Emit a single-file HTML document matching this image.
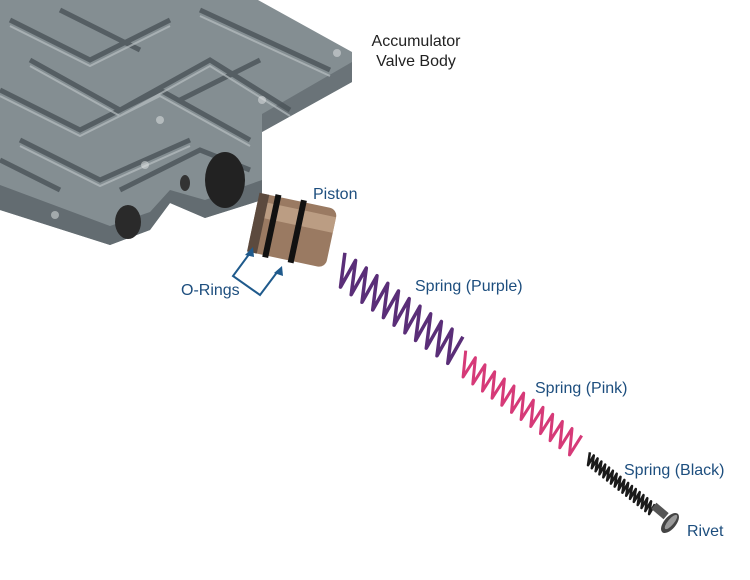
<!DOCTYPE html>
<html><head><meta charset="utf-8"><style>
html,body{margin:0;padding:0;background:#fff}
svg{display:block}
text{font-family:"Liberation Sans",sans-serif;font-size:16px}
</style></head><body>
<svg id="s" width="750" height="580" viewBox="0 0 750 580">
<!-- valve body -->
<polygon points="0,0 258,0 352,52 352,82 262,132 262,200 205,218 170,203 150,230 110,245 0,210" fill="#848e92"/>
<polygon points="0,185 110,226 150,212 170,190 205,200 262,180 262,200 205,218 170,203 150,230 110,245 0,210" fill="#636c71"/>
<polygon points="262,132 352,82 352,62 262,114" fill="#6a7378"/>
<g stroke="#4a5257" stroke-width="5" fill="none" opacity="0.8">
<path d="M10,20 L90,60 L170,20 M30,60 L120,110 L210,60 L290,110 M0,90 L80,130 L160,90 L250,140 M20,140 L100,180 L190,140 M60,10 L140,50 M200,10 L330,70 M180,100 L260,60 M0,160 L60,190 M120,190 L200,150 L250,170"/>
</g>
<g stroke="#b8bfc2" stroke-width="2" fill="none" opacity="0.7">
<path d="M10,26 L90,66 L170,26 M30,66 L120,116 L210,66 L290,116 M0,96 L80,136 L160,96 L250,146 M20,146 L100,186 L190,146 M200,16 L330,76"/>
</g>
<g fill="#e4e7e8" opacity="0.5"><circle cx="337" cy="53" r="4"/><circle cx="262" cy="100" r="4"/><circle cx="160" cy="120" r="4"/><circle cx="55" cy="215" r="4"/><circle cx="145" cy="165" r="4"/></g>
<ellipse cx="225" cy="180" rx="20" ry="28" fill="#222"/>
<ellipse cx="128" cy="222" rx="13" ry="17" fill="#2a2a2a"/>
<ellipse cx="185" cy="183" rx="5" ry="8" fill="#333"/>
<!-- piston -->
<g transform="rotate(12 290 232)">
<rect x="252" y="200" width="80" height="60" rx="8" fill="#9a7a62"/>
<rect x="252" y="208" width="80" height="16" fill="#c9ac92" opacity="0.7"/>
<rect x="268" y="198" width="6" height="64" fill="#111"/>
<rect x="294" y="198" width="6" height="64" fill="#111"/>
<rect x="252" y="200" width="10" height="60" fill="#5c4a3e"/>
</g>
<g id="springs"></g>
<!-- rivet -->
<rect x="652" y="507" width="16" height="8" fill="#555" transform="rotate(40 660 511)"/>
<ellipse cx="670" cy="523" rx="6" ry="12" fill="#444" transform="rotate(40 670 523)"/>
<ellipse cx="671" cy="522" rx="3" ry="9" fill="#999" transform="rotate(40 671 522)"/>
<!-- O-ring arrows -->
<g stroke="#1f5a8c" stroke-width="2" fill="none">
<polyline points="250,253 233,276 260,295 278,271"/>
</g>
<polygon points="253,247 245,255 254,257" fill="#1f5a8c"/>
<polygon points="282,266 274,273 283,276" fill="#1f5a8c"/>
<text x="416" y="46" text-anchor="middle" fill="#222">Accumulator</text>
<text x="416" y="66" text-anchor="middle" fill="#222">Valve Body</text>
<g fill="#1d4e7e">
<text x="313" y="199">Piston</text>
<text x="181" y="295">O-Rings</text>
<text x="415" y="291">Spring (Purple)</text>
<text x="535" y="393">Spring (Pink)</text>
<text x="624" y="475">Spring (Black)</text>
<text x="687" y="536">Rivet</text>
</g>
</svg>
<script>
function coil(ax,ay,bx,by,n,r,col,w){
 var dx=bx-ax,dy=by-ay,L=Math.hypot(dx,dy),ux=dx/L,uy=dy/L,px=-uy*0.55,py=1,d="";
 var pl=Math.hypot(px,py);px/=pl;py/=pl;
 for(var i=0;i<=2*n;i++){var t=i/(2*n),s=(i%2?1:-1)*r;
  var x=ax+dx*t+px*s,y=ay+dy*t+py*s;d+=(i?"L":"M")+x.toFixed(1)+","+y.toFixed(1);}
 var p=document.createElementNS("http://www.w3.org/2000/svg","path");
 p.setAttribute("d",d);p.setAttribute("stroke",col);p.setAttribute("stroke-width",w);p.setAttribute("fill","none");p.setAttribute("stroke-linejoin","round");
 document.getElementById("springs").appendChild(p);}
coil(340,268,458,352,11,16,"#5a2e78",3.5);
coil(462,362,578,447,12,12,"#d63a78",3);
coil(588,458,653,510,17,6,"#1a1a1a",2.5);
</script>
</body></html>
